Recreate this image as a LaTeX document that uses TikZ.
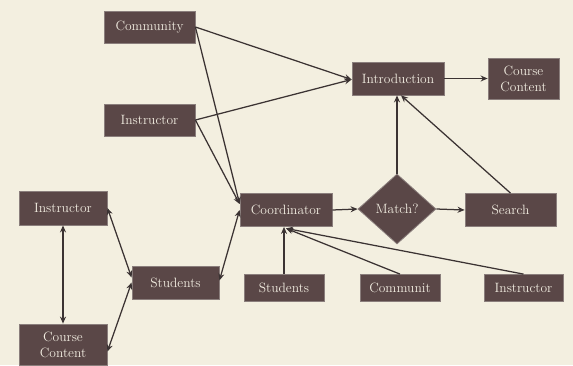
\documentclass[tikz,border=0pt]{standalone}
\usetikzlibrary{shapes.geometric,arrows.meta}
\definecolor{bg}{HTML}{F3EFE0}
\definecolor{boxfill}{HTML}{5A4747}
\definecolor{boxedge}{HTML}{8A7E7C}
\definecolor{boxtext}{HTML}{F1ECE0}
\definecolor{linec}{HTML}{3B3333}
\begin{document}
\begin{tikzpicture}[x=1pt,y=-1pt,
  box/.style={rectangle,fill=boxfill,draw=boxedge,line width=0.8pt,text=boxtext,
    inner sep=0pt,align=center,font=\fontsize{13.5}{16}\selectfont},
  dia/.style={diamond,fill=boxfill,draw=boxedge,line width=0.8pt,text=boxtext,
    inner sep=0pt,minimum width=78pt,minimum height=70pt,font=\fontsize{13.5}{16}\selectfont},
  conn/.style={draw=linec,line width=1.25pt,-{Stealth[length=7pt,width=6pt]}},
  both/.style={draw=linec,line width=1.25pt,{Stealth[length=7pt,width=6pt]}-{Stealth[length=7pt,width=6pt]}}]
\fill[bg] (0,0) rectangle (573,365);
\useasboundingbox (0,0) rectangle (573,365);
% nodes
\node[box,minimum width=91pt,minimum height=32pt] (comm) at (149.5,27) {Community};
\node[box,minimum width=91pt,minimum height=32pt] (instrT) at (149.5,120) {Instructor};
\node[box,minimum width=92pt,minimum height=33pt] (intro) at (398,78.5) {Introduction};
\node[box,minimum width=71pt,minimum height=41pt] (ccT) at (523.5,78.5) {Course\\Content};
\node[box,minimum width=92pt,minimum height=33pt] (coord) at (286,210) {Coordinator};
\node[dia] (match) at (397,209) {Match?};
\node[box,minimum width=91pt,minimum height=33pt] (search) at (510.5,210) {Search};
\node[box,minimum width=80pt,minimum height=27pt] (studB) at (284,288) {Students};
\node[box,minimum width=80pt,minimum height=27pt] (commB) at (400,288) {Communit};
\node[box,minimum width=79pt,minimum height=27pt] (instrB) at (523.5,288) {Instructor};
\node[box,minimum width=88pt,minimum height=34pt] (instrL) at (63,208) {Instructor};
\node[box,minimum width=87pt,minimum height=33pt] (studM) at (175.5,282.5) {Students};
\node[box,minimum width=88pt,minimum height=41pt] (ccL) at (63,344.5) {Course\\Content};
% connectors
\draw[conn] (comm.east) -- ([yshift=-1pt]intro.west);
\draw[conn] (instrT.east) -- ([yshift=-1pt]intro.west);
\draw[conn] (comm.east) -- ([yshift=6pt]coord.west);
\draw[conn] (instrT.east) -- ([yshift=6pt]coord.west);
\draw[conn] (intro.east) -- (ccT.west);
\draw[conn] (match.north) -- (match.north |- intro.south);
\draw[conn] (search.north) -- ([xshift=3pt]intro.south);
\draw[conn] (coord.east) -- (match.west);
\draw[conn] (match.east) -- (search.west);
\draw[conn] (studB.north) -- (studB.north |- coord.south);
\draw[conn] (commB.north) -- ([yshift=-1.5pt]coord.south);
\draw[conn] (instrB.north) -- ([yshift=-1.5pt]coord.south);
\draw[both] (instrL.south) -- (ccL.north);
\draw[both] (instrL.east) -- ([yshift=5pt]studM.west);
\draw[both] ([yshift=-7pt]ccL.east) -- (studM.west);
\draw[both] ([yshift=2pt]studM.east) -- (coord.west);
\end{tikzpicture}
\end{document}
